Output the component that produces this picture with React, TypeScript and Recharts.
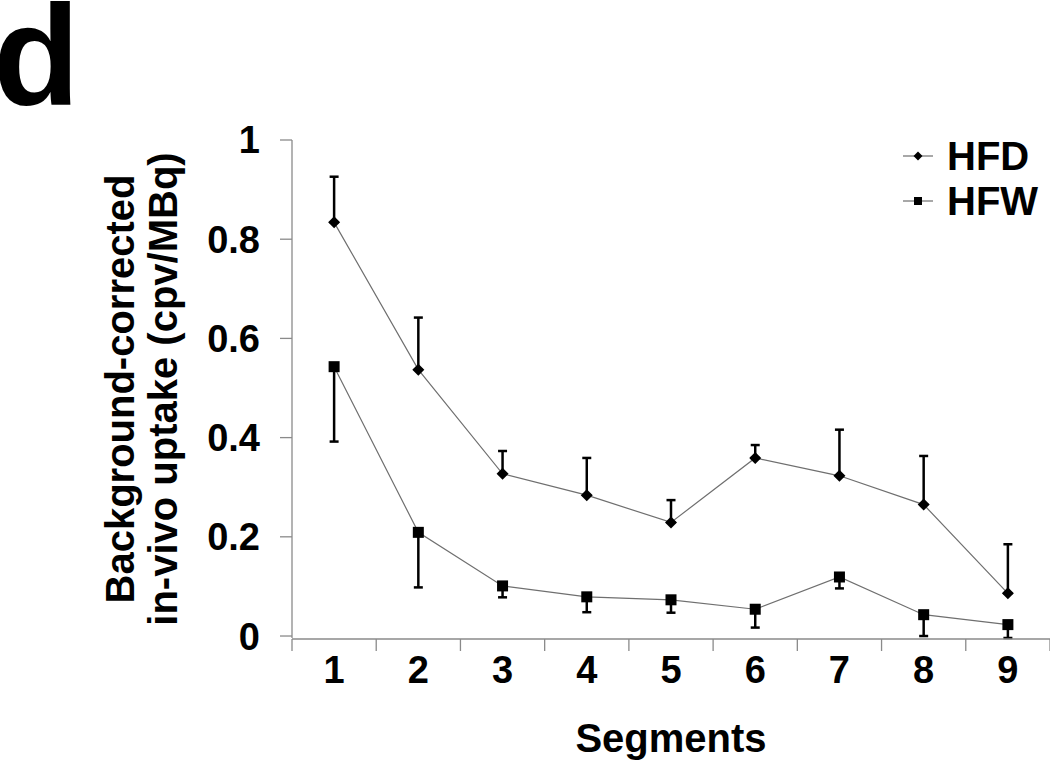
import React from "react";
import { ErrorBar, Line, LineChart, XAxis, YAxis } from "recharts";

const SEGMENTS = [1, 2, 3, 4, 5, 6, 7, 8, 9];
const HFD_MEAN = [0.834, 0.537, 0.327, 0.284, 0.229, 0.359, 0.323, 0.265, 0.086];
const HFD_SD = [0.092, 0.105, 0.046, 0.075, 0.045, 0.026, 0.093, 0.098, 0.099];
const HFW_MEAN = [0.543, 0.209, 0.101, 0.079, 0.073, 0.054, 0.119, 0.043, 0.023];
const HFW_SD = [0.151, 0.111, 0.023, 0.031, 0.026, 0.037, 0.023, 0.043, 0.027];
const Y_TICKS = [0, 0.2, 0.4, 0.6, 0.8, 1];
const EDGE_TICKS = [0.5, 1.5, 2.5, 3.5, 4.5, 5.5, 6.5, 7.5, 8.5, 9.5];

const FONT = '"Liberation Sans", Arial, sans-serif';
const AXIS_GREY = "#8a8a8a";
const LINE_GREY = "#6f6f6f";

// HFD error bars only go up, HFW ones only go down
const data = SEGMENTS.map((s, i) => ({
  segment: s,
  hfd: HFD_MEAN[i],
  hfdErr: [0, HFD_SD[i]],
  hfw: HFW_MEAN[i],
  hfwErr: [HFW_SD[i], 0],
}));

const Diamond = ({ cx, cy, r = 6 }: { cx: number; cy: number; r?: number }) => (
  <polygon
    points={`${cx},${cy - r} ${cx + r},${cy} ${cx},${cy + r} ${cx - r},${cy}`}
    fill="#000"
  />
);

const Square = ({ cx, cy, s = 11 }: { cx: number; cy: number; s?: number }) => (
  <rect x={cx - s / 2} y={cy - s / 2} width={s} height={s} fill="#000" />
);

function LegendBox() {
  const rows = [
    { name: "HFD", mark: (cy: number) => <Diamond cx={15} cy={cy} r={4.5} /> },
    { name: "HFW", mark: (cy: number) => <Square cx={15} cy={cy} s={8} /> },
  ];
  return (
    <div style={{ position: "absolute", left: 903, top: 133, fontFamily: FONT }}>
      {rows.map((r) => (
        <div key={r.name} style={{ display: "flex", alignItems: "center", height: 45 }}>
          <svg width={34} height={20} style={{ marginRight: 10 }}>
            <line x1={0} x2={30} y1={10} y2={10} stroke={LINE_GREY} strokeWidth={1.2} />
            {r.mark(10)}
          </svg>
          <span style={{ fontSize: 40, fontWeight: "bold", color: "#000", lineHeight: 1 }}>
            {r.name}
          </span>
        </div>
      ))}
    </div>
  );
}

export default function App() {
  return (
    <div style={{ position: "absolute", left: 0, top: 0, width: 1050, height: 765, background: "#fff" }}>
      <svg width={200} height={130} style={{ position: "absolute", left: 0, top: 0 }}>
        <text x={-7} y={105} fontFamily={FONT} fontSize={142} fontWeight="bold" fill="#000">
          d
        </text>
      </svg>
      <LineChart
        width={1050}
        height={765}
        data={data}
        margin={{ top: 140, right: 0, bottom: 125, left: 0 }}
        style={{ fontFamily: FONT }}
      >
        <XAxis
          xAxisId="edges"
          type="number"
          dataKey="segment"
          domain={[0.5, 9.5]}
          ticks={EDGE_TICKS}
          tickSize={12}
          tickFormatter={() => ""}
          height={1}
          stroke={AXIS_GREY}
          strokeWidth={1.3}
        />
        <XAxis
          type="number"
          dataKey="segment"
          domain={[0.5, 9.5]}
          ticks={SEGMENTS}
          axisLine={false}
          tickLine={false}
          tickSize={0}
          tickMargin={0}
          height={1}
          tick={({ x, y, payload }: any) => (
            <text x={x} y={y + 45} textAnchor="middle" fontFamily={FONT} fontSize={38} fontWeight="bold" fill="#000">
              {payload.value}
            </text>
          )}
          label={{
            content: ({ viewBox }: any) => (
              <text
                x={viewBox.x + viewBox.width / 2}
                y={viewBox.y + 114}
                textAnchor="middle"
                fontFamily={FONT}
                fontSize={40}
                fontWeight="bold"
                fill="#000"
              >
                Segments
              </text>
            ),
          }}
        />
        <YAxis
          type="number"
          domain={[0, 1]}
          ticks={Y_TICKS}
          width={292}
          tickSize={12}
          tickMargin={20}
          stroke={AXIS_GREY}
          strokeWidth={1.3}
          tick={{ fontSize: 38, fontWeight: "bold", fill: "#000", fontFamily: FONT }}
          tickFormatter={(v: number) => (v === 0 || v === 1 ? String(v) : v.toFixed(1))}
          label={{
            content: ({ viewBox }: any) => {
              const cy = viewBox.y + viewBox.height / 2;
              return (
                <g fontFamily={FONT} fontSize={40} fontWeight="bold" fill="#000">
                  <text x={0} y={0} textAnchor="middle" transform={`translate(${viewBox.x + 134},${cy}) rotate(-90)`}>
                    Background-corrected
                  </text>
                  <text x={0} y={0} textAnchor="middle" transform={`translate(${viewBox.x + 177},${cy}) rotate(-90)`}>
                    in-vivo uptake (cpv/MBq)
                  </text>
                </g>
              );
            },
          }}
        />
        <Line
          dataKey="hfd"
          name="HFD"
          stroke={LINE_GREY}
          strokeWidth={1.2}
          isAnimationActive={false}
          dot={({ cx, cy, index }: any) => <Diamond key={`d${index}`} cx={cx} cy={cy} />}
          activeDot={false}
        >
          <ErrorBar dataKey="hfdErr" direction="y" width={4.5} strokeWidth={2.5} stroke="#000" isAnimationActive={false} />
        </Line>
        <Line
          dataKey="hfw"
          name="HFW"
          stroke={LINE_GREY}
          strokeWidth={1.2}
          isAnimationActive={false}
          dot={({ cx, cy, index }: any) => <Square key={`s${index}`} cx={cx} cy={cy} />}
          activeDot={false}
        >
          <ErrorBar dataKey="hfwErr" direction="y" width={4.5} strokeWidth={2.5} stroke="#000" isAnimationActive={false} />
        </Line>
      </LineChart>
      <LegendBox />
    </div>
  );
}
